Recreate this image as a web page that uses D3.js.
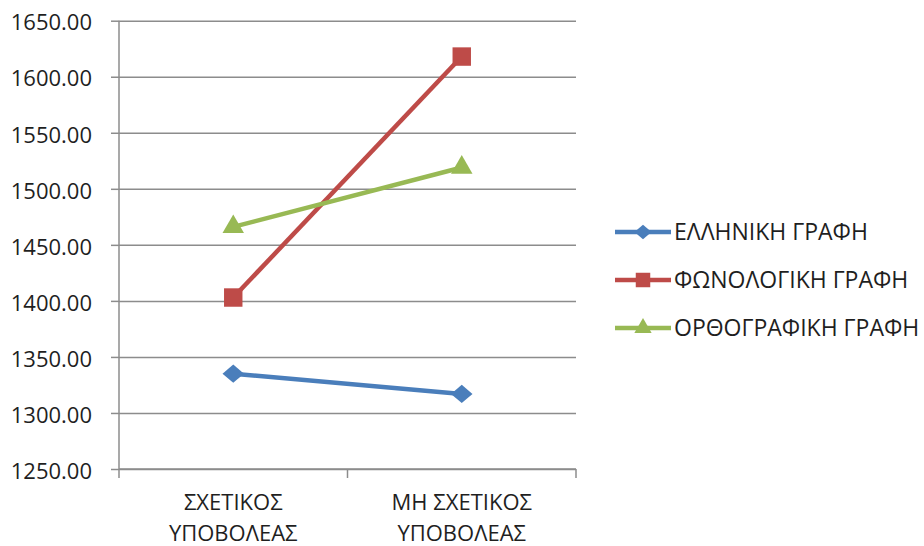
<!DOCTYPE html>
<html>
<head>
<meta charset="utf-8">
<script src="https://cdn.jsdelivr.net/npm/d3@7"></script>
<style>
  html, body { margin: 0; padding: 0; background: #fff; }
  svg { display: block; }
  text { font-family: "Open Sans", "Noto Sans", sans-serif; fill: #1f1f1f; }
</style>
</head>
<body>
<svg id="chart" width="924" height="546"></svg>
<script>
// Categories (prime type) and reaction-time means per writing condition
const categories = ["ΣΧΕΤΙΚΟΣ ΥΠΟΒΟΛΕΑΣ", "ΜΗ ΣΧΕΤΙΚΟΣ ΥΠΟΒΟΛΕΑΣ"];
const seriesNames = ["ΕΛΛΗΝΙΚΗ ΓΡΑΦΗ", "ΦΩΝΟΛΟΓΙΚΗ ΓΡΑΦΗ", "ΟΡΘΟΓΡΑΦΙΚΗ ΓΡΑΦΗ"];
const greekValues = [1335, 1317];
const phonologicalValues = [1403, 1618];
const orthographicValues = [1466, 1519];
const yTicks = [1250, 1300, 1350, 1400, 1450, 1500, 1550, 1600, 1650];

const colors = ["#4a7ebb", "#be4b48", "#98b954"];

// Wide diamond, like spreadsheet line markers
const wideDiamond = {
  draw(ctx, size) {
    const w = Math.sqrt(size) * 0.62, h = w * 0.85;
    ctx.moveTo(0, -h); ctx.lineTo(w, 0); ctx.lineTo(0, h); ctx.lineTo(-w, 0); ctx.closePath();
  }
};
const markerTypes = [wideDiamond, d3.symbolSquare, d3.symbolTriangle];

const series = [greekValues, phonologicalValues, orthographicValues].map((vals, i) => ({
  name: seriesNames[i], color: colors[i], symbol: markerTypes[i],
  points: categories.map((c, j) => ({ cat: c, value: vals[j] }))
}));

const svg = d3.select("#chart");
const plot = { left: 119, right: 576, top: 20.7, bottom: 469 };

const x = d3.scaleBand().domain(categories).range([plot.left, plot.right]).padding(0);
const y = d3.scaleLinear().domain([1250, 1650]).range([plot.bottom, plot.top]);

const gridColor = "#8c8c8c";

// Horizontal gridlines
const grid = svg.append("g").attr("transform", `translate(${plot.left},0)`)
  .call(d3.axisLeft(y).tickValues(yTicks).tickSize(-(plot.right - plot.left)).tickFormat(""));
grid.select(".domain").remove();
grid.selectAll("line").attr("stroke", gridColor).attr("stroke-width", 1.5);

// Left axis with outward ticks and labels
const yAxis = svg.append("g").attr("transform", `translate(${plot.left},0)`)
  .call(d3.axisLeft(y).tickValues(yTicks).tickSize(8).tickPadding(19).tickFormat(d3.format(".2f")));
yAxis.select(".domain").remove();
yAxis.selectAll("line").attr("stroke", gridColor).attr("stroke-width", 1.5);
yAxis.selectAll("text").attr("font-size", 22).attr("fill", "#1f1f1f")
  .style("font-family", '"Open Sans", "Noto Sans", sans-serif').attr("dy", "0.42em");
svg.append("line").attr("x1", plot.left).attr("x2", plot.left)
  .attr("y1", plot.top).attr("y2", plot.bottom + 9)
  .attr("stroke", gridColor).attr("stroke-width", 1.5);

// Bottom category axis with ticks at band boundaries
const xAxisG = svg.append("g");
xAxisG.append("line").attr("x1", plot.left).attr("x2", plot.right)
  .attr("y1", y(1250)).attr("y2", y(1250)).attr("stroke", gridColor).attr("stroke-width", 1.5);
const boundaries = categories.map(c => x(c) + x.bandwidth());
xAxisG.selectAll("line.tick").data(boundaries).join("line").attr("class", "tick")
  .attr("x1", d => d).attr("x2", d => d)
  .attr("y1", y(1250)).attr("y2", y(1250) + 9)
  .attr("stroke", gridColor).attr("stroke-width", 1.5);

const catLabels = xAxisG.selectAll("text.cat").data(categories).join("text").attr("class", "cat")
  .attr("text-anchor", "middle").attr("font-size", 22);
catLabels.each(function (d) {
  const words = d.split(" ");
  const lines = [words.slice(0, -1).join(" "), words[words.length - 1]];
  const t = d3.select(this);
  lines.forEach((ln, i) => {
    t.append("tspan").attr("x", x(d) + x.bandwidth() / 2)
      .attr("y", 510 + i * 31).text(ln);
  });
});

// Series lines and markers
const line = d3.line().x(d => x(d.cat) + x.bandwidth() / 2).y(d => y(d.value));
const seriesG = svg.append("g");
series.forEach(s => {
  seriesG.append("path").datum(s.points).attr("d", line)
    .attr("fill", "none").attr("stroke", s.color).attr("stroke-width", 4.5)
    .attr("stroke-linejoin", "round");
  const size = s.symbol === wideDiamond ? 300 : s.symbol === d3.symbolTriangle ? 200 : 340;
  seriesG.selectAll(null).data(s.points).join("path")
    .attr("d", d3.symbol().type(s.symbol).size(size))
    .attr("transform", d => `translate(${x(d.cat) + x.bandwidth() / 2},${y(d.value)})`)
    .attr("fill", s.color);
});

// Legend
const legend = svg.append("g");
const legendY = d3.scalePoint().domain(seriesNames).range([232, 328]);
series.forEach(s => {
  const g = legend.append("g").attr("transform", `translate(0,${legendY(s.name)})`);
  g.append("line").attr("x1", 615).attr("x2", 671).attr("y1", 0).attr("y2", 0)
    .attr("stroke", s.color).attr("stroke-width", 4.5);
  const size = s.symbol === wideDiamond ? 190 : s.symbol === d3.symbolTriangle ? 130 : 210;
  g.append("path").attr("d", d3.symbol().type(s.symbol).size(size))
    .attr("transform", "translate(643,0)").attr("fill", s.color);
  g.append("text").attr("x", 674).attr("y", 0).attr("dy", "0.36em")
    .attr("font-size", 23).text(s.name);
});
</script>
</body>
</html>
